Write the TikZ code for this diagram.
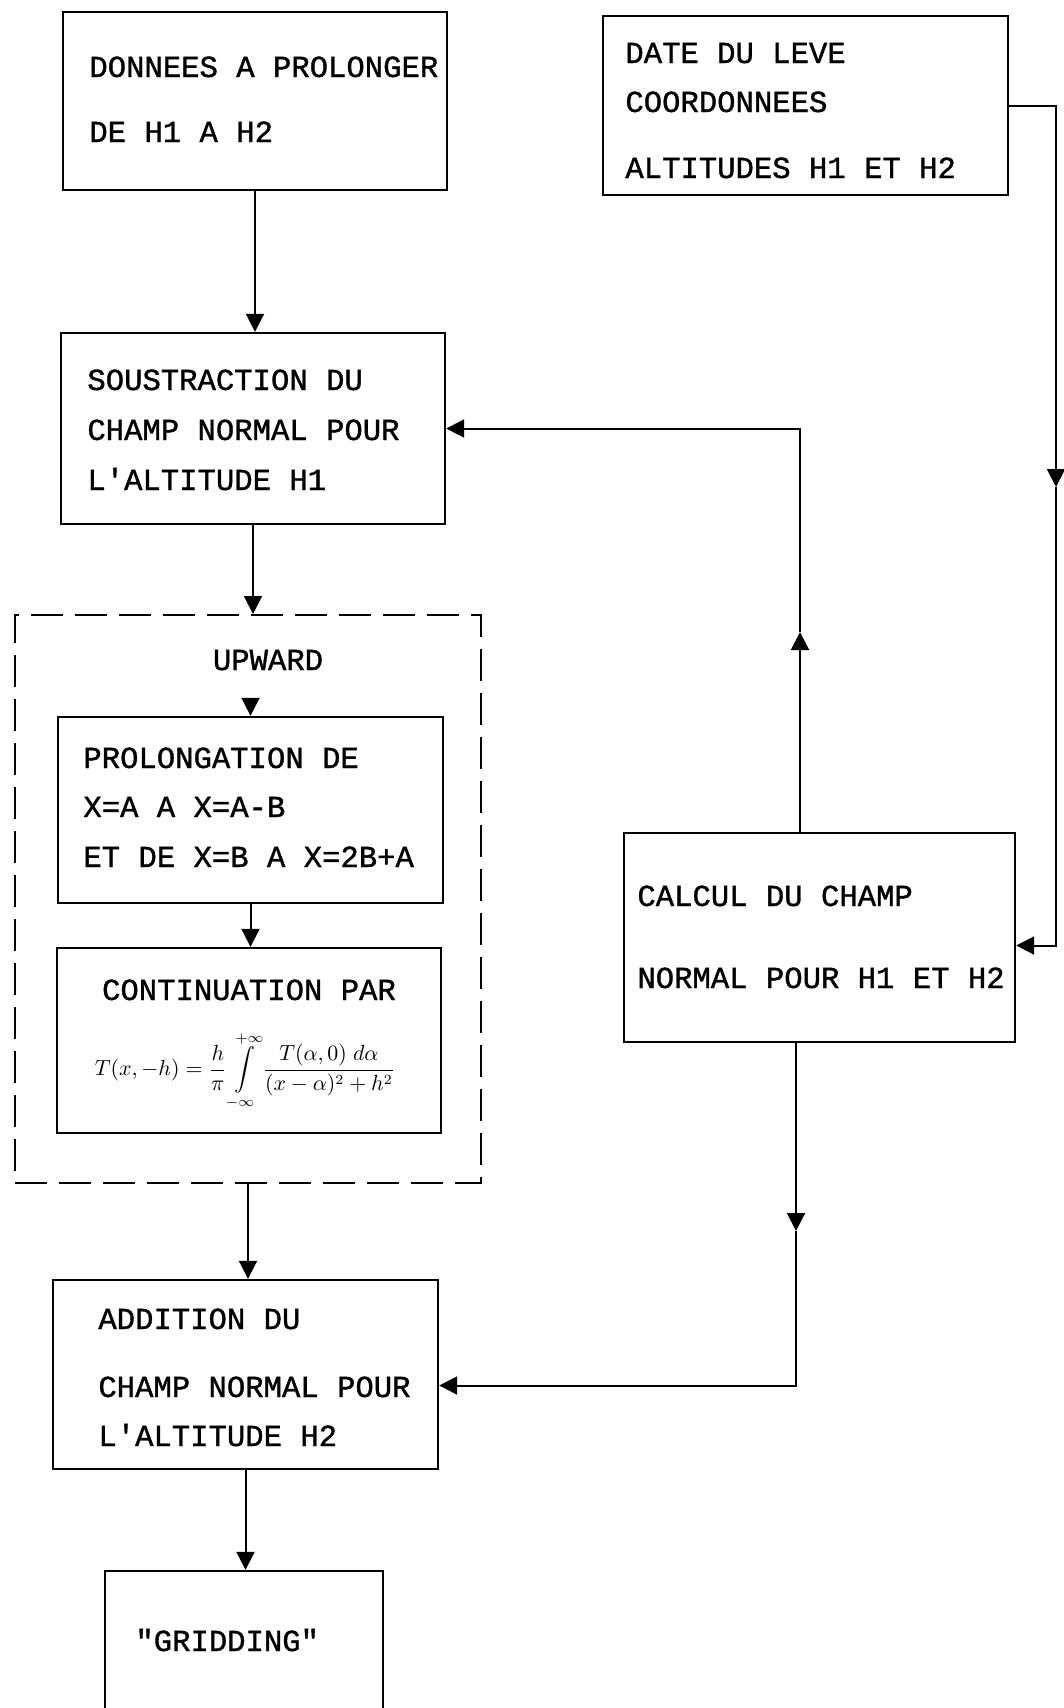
\documentclass[tikz,border=0pt]{standalone}
\usepackage{amsmath,amssymb}
\usepackage{fontspec}
\usepackage{tikz}
\usetikzlibrary{arrows.meta}
\newfontfamily\courier[FakeBold=1.2]{Liberation Mono}

\begin{document}
\begin{tikzpicture}[x=0.5pt, y=-0.5pt, >=Triangle,
    boite/.style={draw, line width=1.2pt, rectangle, inner sep=0pt},
    ligne/.style={anchor=base west, inner sep=0pt,
                  font=\courier\fontsize{15.3}{18}\selectfont},
    fleche/.style={-{Triangle[length=9pt, width=9pt]}, line width=1pt}]

\useasboundingbox (0,0) rectangle (1064,1708);
\clip (0,0) rectangle (1064,1708);

% Cadres
\node[boite, minimum width=192pt, minimum height=89pt]     (donnees)  at (255,101)    {};
\node[boite, minimum width=202.5pt, minimum height=89.5pt] (date)     at (805.5,105.5) {};
\node[boite, minimum width=192pt, minimum height=95.5pt]   (soustr)   at (253,428.5)  {};
\node[draw, line width=1pt, dash pattern=on 16pt off 6pt,
      minimum width=233pt, minimum height=284pt, inner sep=0pt] (upward) at (248,899) {};
\node[boite, minimum width=192.5pt, minimum height=93pt]   (prolong)  at (250.5,810)  {};
\node[boite, minimum width=192pt, minimum height=92.5pt]   (contin)   at (249,1040.5) {};
\node[boite, minimum width=195.5pt, minimum height=104.5pt] (calcul)  at (819.5,937.5) {};
\node[boite, minimum width=192.5pt, minimum height=94.5pt] (addition) at (245.5,1374.5) {};
\node[boite, minimum width=139pt, minimum height=84.5pt]   (gridding) at (244,1655.5) {};

% Textes
\foreach \y/\t [count=\i] in {77/DONNEES A PROLONGER, 142/DE H1 A H2}
    \node[ligne] (donnees-\i) at (89,\y) {\t};
\foreach \y/\t [count=\i] in {63/DATE DU LEVE, 112/COORDONNEES, 178/ALTITUDES H1 ET H2}
    \node[ligne] (date-\i) at (625,\y) {\t};
\foreach \y/\t [count=\i] in {390/SOUSTRACTION DU, 440/CHAMP NORMAL POUR, 490/L'ALTITUDE H1}
    \node[ligne] (soustr-\i) at (87,\y) {\t};
\node[ligne, anchor=base] (upward-1) at (268,670) {UPWARD};
\foreach \y/\t [count=\i] in {768/PROLONGATION DE, 817/X=A A X=A-B, 867/ET DE X=B A X=2B+A}
    \node[ligne] (prolong-\i) at (83,\y) {\t};
\node[ligne, anchor=base] (contin-1) at (249,1000) {CONTINUATION PAR};
\node[inner sep=0pt, font=\fontsize{10.5}{12}\selectfont] (contin-2) at (245,1071)
    {$\displaystyle T(x,-h)=\frac{h}{\pi}\int\limits_{-\infty}^{+\infty}
      \frac{T(\alpha,0)\;d\alpha}{(x-\alpha)^2+h^2}$};
\foreach \y/\t [count=\i] in {906/CALCUL DU CHAMP, 988/NORMAL POUR H1 ET H2}
    \node[ligne] (calcul-\i) at (637,\y) {\t};
\foreach \y/\t [count=\i] in {1329/ADDITION DU, 1397/CHAMP NORMAL POUR, 1446/L'ALTITUDE H2}
    \node[ligne] (addition-\i) at (98,\y) {\t};
\node[ligne] (gridding-1) at (135,1651) {"GRIDDING"};

% Fleches de la colonne gauche
\draw[fleche] (donnees.south) -- (donnees.south |- soustr.north);
\draw[fleche] (soustr.south) -- (soustr.south |- upward.north);
\coordinate (pointe) at ([yshift=9pt]prolong.north);
\draw[fleche] (pointe) -- (prolong.north);
\draw[fleche] (prolong.south) -- (prolong.south |- contin.north);
\draw[fleche] (upward.south) -- (upward.south |- addition.north);
\draw[fleche] (addition.south) -- (addition.south |- gridding.north);

% Boucle du champ normal
\coordinate (dr) at (1056,487);
\draw[fleche] (date.east) -| (dr);
\draw[fleche] (dr) |- ([yshift=-4pt]calcul.east);
\coordinate (cu) at (800,632);
\draw[fleche] (cu |- calcul.north) -- (cu);
\draw[fleche] (cu) |- (soustr.east);
\coordinate (cd) at (796,1231);
\draw[fleche] (cd |- calcul.south) -- (cd);
\draw[fleche] (cd) |- ([yshift=-5.5pt]addition.east);

\end{tikzpicture}
\end{document}
